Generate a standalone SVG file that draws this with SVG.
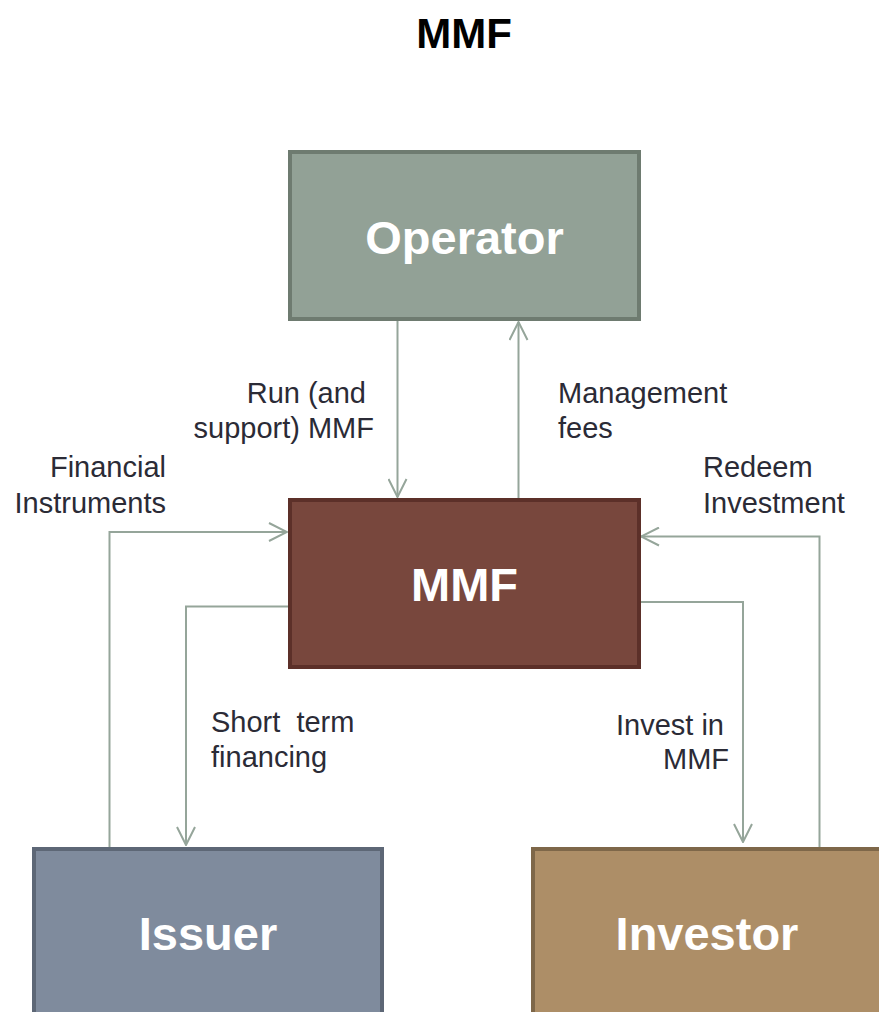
<svg xmlns="http://www.w3.org/2000/svg" width="879" height="1012" viewBox="0 0 879 1012">
<defs>
<style>
.box{stroke-width:4}
.nlabel{font-family:"Liberation Sans",Arial,sans-serif;font-weight:bold;font-size:47px;fill:#ffffff;text-anchor:middle}
.elabel{font-family:"Liberation Sans",Arial,sans-serif;font-size:29px;fill:#2b2b36}
.conn{fill:none;stroke:#95a59a;stroke-width:2}
</style>
<marker id="arr" viewBox="0 0 20 20" refX="19" refY="10" markerWidth="20" markerHeight="20" markerUnits="userSpaceOnUse" orient="auto">
<path d="M1,1 L19,10 L1,19" fill="none" stroke="#95a59a" stroke-width="2"/>
</marker>
</defs>
<rect width="879" height="1012" fill="#ffffff"/>
<text x="464" y="48" font-family="Liberation Sans, Arial, sans-serif" font-weight="bold" font-size="42" text-anchor="middle" fill="#000000">MMF</text>

<g id="connectors">
<path class="conn" d="M397.5,321 L397.5,497" marker-end="url(#arr)"/>
<path class="conn" d="M518.5,498 L518.5,322" marker-end="url(#arr)"/>
<path class="conn" d="M109.5,847 L109.5,532 L287,532" marker-end="url(#arr)"/>
<path class="conn" d="M289,606.5 L186,606.5 L186,845" marker-end="url(#arr)"/>
<path class="conn" d="M640,602 L743,602 L743,842" marker-end="url(#arr)"/>
<path class="conn" d="M819.5,851 L819.5,536.5 L641,536.5" marker-end="url(#arr)"/>
<text class="elabel" x="366" y="403" text-anchor="end">Run (and</text>
<text class="elabel" x="374" y="438" text-anchor="end">support) MMF</text>
<text class="elabel" x="558" y="403">Management</text>
<text class="elabel" x="558" y="438">fees</text>
<text class="elabel" x="166" y="477" text-anchor="end">Financial</text>
<text class="elabel" x="166" y="513" text-anchor="end">Instruments</text>
<text class="elabel" x="703" y="477">Redeem</text>
<text class="elabel" x="703" y="513">Investment</text>
<text class="elabel" x="211" y="732" xml:space="preserve">Short  term</text>
<text class="elabel" x="211" y="767">financing</text>
<text class="elabel" x="616" y="735">Invest in</text>
<text class="elabel" x="729" y="769" text-anchor="end">MMF</text>
</g>

<g id="operator">
<rect class="box" x="290" y="152" width="349" height="167" fill="#92a196" stroke="#6e7b70"/>
<text class="nlabel" x="464.5" y="254">Operator</text>
</g>
<g id="mmf">
<rect class="box" x="290" y="500" width="349" height="167" fill="#78473d" stroke="#5c3029"/>
<text class="nlabel" x="464.5" y="601">MMF</text>
</g>
<g id="issuer">
<rect class="box" x="34" y="849" width="348" height="180" fill="#7f8b9d" stroke="#5d6776"/>
<text class="nlabel" x="208" y="950">Issuer</text>
</g>
<g id="investor">
<rect class="box" x="533" y="849" width="360" height="180" fill="#ad8e67" stroke="#7e6749"/>
<text class="nlabel" x="707" y="950">Investor</text>
</g>
</svg>
